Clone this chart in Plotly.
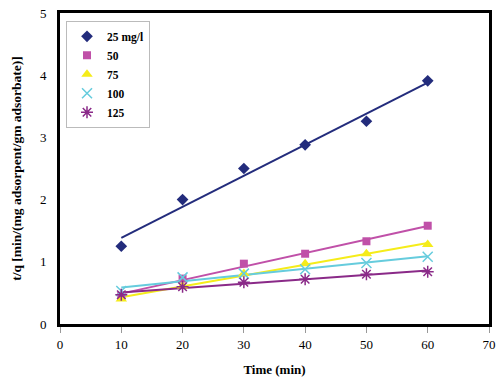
import numpy as np
import plotly.graph_objects as go

time_min = [10, 20, 30, 40, 50, 60]
series_names = ["25 mg/l", "50", "75", "100", "125"]
tq_25 = [1.25, 2.00, 2.50, 2.88, 3.26, 3.91]
tq_50 = [0.45, 0.73, 0.97, 1.13, 1.33, 1.58]
tq_75 = [0.40, 0.61, 0.81, 0.97, 1.13, 1.28]
tq_100 = [0.53, 0.75, 0.81, 0.88, 0.98, 1.08]
tq_125 = [0.47, 0.60, 0.67, 0.72, 0.80, 0.84]
x_ticks = [0, 10, 20, 30, 40, 50, 60, 70]
y_ticks = [0, 1, 2, 3, 4, 5]

colors = ["#232C7C", "#C050A8", "#F5EC1A", "#66CCDD", "#8A2A88"]
symbols = ["diamond", "square", "triangle-up", "x-thin", "asterisk"]
sizes = [9, 8, 10, 10, 10]
all_series = [tq_25, tq_50, tq_75, tq_100, tq_125]

font_family = "Liberation Serif, Times New Roman, serif"

fig = go.Figure()
x_arr = np.array(time_min, dtype=float)
for name, ys, c in zip(series_names, all_series, colors):
    slope, intercept = np.polyfit(x_arr, np.array(ys), 1)
    xl = [time_min[0], time_min[-1]]
    yl = [slope * v + intercept for v in xl]
    fig.add_trace(go.Scatter(x=xl, y=yl, mode="lines", line=dict(color=c, width=2),
                             showlegend=False, hoverinfo="skip"))

for name, ys, c, s, sz in zip(series_names, all_series, colors, symbols, sizes):
    mk = dict(color=c, symbol=s, size=sz)
    if s in ("x-thin", "asterisk"):
        mk["line"] = dict(color=c, width=1.5)
    fig.add_trace(go.Scatter(x=time_min, y=ys, mode="markers",
                             name="<b>" + name + "</b>", marker=mk))

fig.update_layout(
    width=500, height=385,
    margin=dict(l=60, r=11, t=13, b=61, autoexpand=False),
    paper_bgcolor="white", plot_bgcolor="white",
    font=dict(family=font_family, color="black", size=13),
    legend=dict(x=0.014, y=0.975, xanchor="left", yanchor="top",
                bgcolor="white", bordercolor="#BBBBBB", borderwidth=1,
                font=dict(family=font_family, size=11.5, color="black"),
                tracegroupgap=0, itemwidth=30),
    xaxis=dict(range=[0, 70], tickvals=x_ticks, showgrid=False, zeroline=False,
               automargin=False,
               showline=True, linecolor="black", linewidth=3, mirror=True,
               ticks="outside", tickcolor="#999999", ticklen=6, tickwidth=1,
               tickprefix="<b>", ticksuffix="</b>",
               tickfont=dict(family=font_family, size=13, color="black"),
               title=dict(text="<b>Time (min)</b>", font=dict(size=13), standoff=15)),
    yaxis=dict(range=[0, 5], tickvals=y_ticks, showgrid=False, zeroline=False,
               automargin=False,
               showline=True, linecolor="black", linewidth=3, mirror=True,
               ticks="", ticklabelstandoff=8,
               tickprefix="<b>", ticksuffix="</b>",
               tickfont=dict(family=font_family, size=13, color="black"),
               title=dict(text="<b>t/q [min/(mg adsorpent/gm adsorbate)]</b>",
                          font=dict(size=13.5), standoff=16)),
)

fig.write_html("out.html", config={"displayModeBar": False},
               post_script="document.body.style.margin='0';")
